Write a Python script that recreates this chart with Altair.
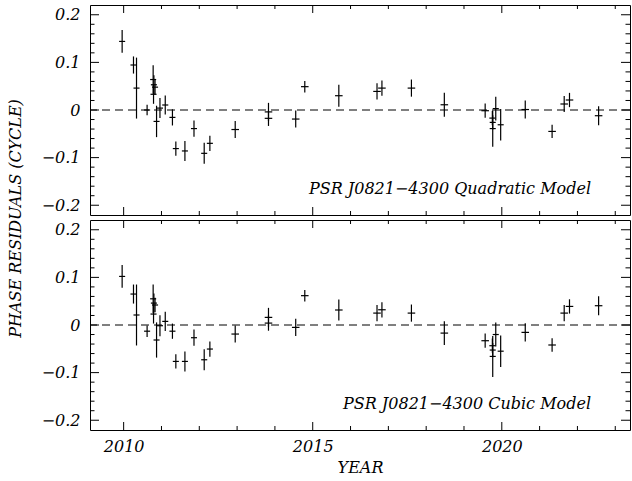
import altair as alt
import pandas as pd

FONT = "DejaVu Serif"

# --- data -------------------------------------------------------------------
years = [2009.96, 2010.26, 2010.34, 2010.62, 2010.78, 2010.80, 2010.83, 2010.79,
         2010.87, 2010.96, 2011.10, 2011.29, 2011.38, 2011.62, 2011.86, 2012.13,
         2012.28, 2012.95, 2013.83, 2013.83, 2014.55, 2014.79, 2015.69, 2016.70,
         2016.83, 2017.61, 2018.48, 2019.56, 2019.75, 2019.76, 2019.76, 2019.84,
         2019.97, 2020.62, 2021.33, 2021.65, 2021.79, 2022.56]
year_err = [0.08, 0.08, 0.08, 0.08, 0.08, 0.08, 0.08, 0.08,
            0.08, 0.08, 0.08, 0.08, 0.08, 0.08, 0.08, 0.08,
            0.08, 0.10, 0.10, 0.10, 0.10, 0.10, 0.10, 0.10,
            0.10, 0.10, 0.10, 0.10, 0.08, 0.08, 0.08, 0.08,
            0.08, 0.10, 0.10, 0.10, 0.10, 0.10]

quad_res = [0.144, 0.0945, 0.046, 0.000, 0.064, 0.053, 0.048, 0.033,
            -0.024, 0.004, 0.0105, -0.0155, -0.081, -0.086, -0.039, -0.091,
            -0.070, -0.041, -0.004, -0.0175, -0.019, 0.049, 0.030, 0.039,
            0.046, 0.046, 0.011, -0.0015, -0.017, -0.026, -0.039, 0.003,
            -0.031, 0.001, -0.045, 0.0126, 0.021, -0.012]
quad_err = [0.024, 0.018, 0.064, 0.011, 0.030, 0.020, 0.015, 0.020,
            0.033, 0.021, 0.020, 0.017, 0.015, 0.021, 0.017, 0.022,
            0.016, 0.018, 0.019, 0.016, 0.018, 0.012, 0.023, 0.017,
            0.016, 0.018, 0.025, 0.015, 0.015, 0.015, 0.038, 0.025,
            0.033, 0.019, 0.014, 0.017, 0.015, 0.020]

cubic_res = [0.102, 0.065, 0.021, -0.013, 0.055, 0.046, 0.042, 0.023,
             -0.0315, -0.0015, 0.0076, -0.013, -0.0765, -0.0765, -0.0267, -0.073,
             -0.0505, -0.019, 0.016, 0.004, -0.005, 0.0616, 0.0315, 0.025,
             0.032, 0.025, -0.017, -0.033, -0.0435, -0.0526, -0.066, -0.020,
             -0.055, -0.0155, -0.042, 0.025, 0.039, 0.0405]
cubic_err = [0.024, 0.020, 0.064, 0.012, 0.030, 0.020, 0.015, 0.020,
             0.037, 0.022, 0.020, 0.016, 0.015, 0.021, 0.017, 0.022,
             0.016, 0.018, 0.020, 0.016, 0.018, 0.012, 0.022, 0.017,
             0.016, 0.018, 0.025, 0.015, 0.015, 0.015, 0.043, 0.025,
             0.033, 0.019, 0.014, 0.017, 0.015, 0.020]

panel_labels = ["PSR J0821\u22124300 Quadratic Model", "PSR J0821\u22124300 Cubic Model"]

x_domain = [2009.11, 2023.39]
y_domain = [-0.2205, 0.2205]
x_major = [2010, 2015, 2020]
x_minor = [2011, 2012, 2013, 2014, 2016, 2017, 2018, 2019, 2021, 2022, 2023]
y_major = [-0.2, -0.1, 0.0, 0.1, 0.2]
y_minor = [-0.18, -0.16, -0.14, -0.12, -0.08, -0.06, -0.04, -0.02,
           0.02, 0.04, 0.06, 0.08, 0.12, 0.14, 0.16, 0.18]

W, H = 540, 210
LABEL_EXPR = "datum.value == 0 ? '0' : format(datum.value, '.1f')"


def panel(res, err, label, bottom):
    df = pd.DataFrame({"year": years, "xerr": year_err, "res": res, "err": err})
    df["lo"] = df["res"] - df["err"]
    df["hi"] = df["res"] + df["err"]
    df["xlo"] = df["year"] - df["xerr"]
    df["xhi"] = df["year"] + df["xerr"]

    xs = alt.Scale(domain=x_domain, nice=False, zero=False)
    ys = alt.Scale(domain=y_domain, nice=False, zero=False)

    if bottom:
        xaxis = alt.Axis(values=x_major, format="d", ticks=False, tickSize=0,
                         domain=False, grid=False, labelPadding=21,
                         labelBaseline="alphabetic", labelFontSize=16,
                         title="YEAR", titleY=42, titleBaseline="alphabetic",
                         titleFontSize=16)
        yaxis = alt.Axis(values=y_major, ticks=False, tickSize=0, domain=False,
                         grid=False, labelPadding=10, labelFontSize=16,
                         labelExpr=LABEL_EXPR, title=None)
    else:
        xaxis = None
        yaxis = alt.Axis(values=y_major, ticks=False, tickSize=0, domain=False,
                         grid=False, labelPadding=10, labelFontSize=16,
                         labelExpr=LABEL_EXPR,
                         title="PHASE RESIDUALS (CYCLE)", titleAngle=270,
                         titleX=-75, titleY=213, titleAlign="center",
                         titleBaseline="middle", titleFontSize=16)

    def X(field):
        return alt.X(field, type="quantitative", scale=xs, axis=xaxis)

    def Y(field):
        return alt.Y(field, type="quantitative", scale=ys, axis=yaxis)

    vbars = alt.Chart(df).mark_rule(color="black", strokeWidth=1.2).encode(
        x=X("year"), y=Y("lo"), y2="hi")
    hbars = alt.Chart(df).mark_rule(color="black", strokeWidth=1.2).encode(
        x=X("xlo"), x2="xhi", y=Y("res"))
    zero = alt.Chart(pd.DataFrame({"v": [0.0]})).mark_rule(
        color="black", strokeWidth=1, strokeDash=[8, 5]
    ).encode(y=Y("v"))

    layers = [vbars, hbars, zero]

    xmaj = pd.DataFrame({"t": x_major})
    xmin = pd.DataFrame({"t": x_minor})
    ymaj = pd.DataFrame({"t": y_major})
    ymin = pd.DataFrame({"t": y_minor})
    for d, ln in [(xmaj, 8), (xmin, 4)]:
        layers.append(alt.Chart(d).mark_rule(color="black", strokeWidth=1).encode(
            x=X("t"), y=alt.value(H), y2=alt.value(H - ln)))
        layers.append(alt.Chart(d).mark_rule(color="black", strokeWidth=1).encode(
            x=X("t"), y=alt.value(0), y2=alt.value(ln)))
    for d, ln in [(ymaj, 9), (ymin, 4.5)]:
        layers.append(alt.Chart(d).mark_rule(color="black", strokeWidth=1).encode(
            y=Y("t"), x=alt.value(0), x2=alt.value(ln)))
        layers.append(alt.Chart(d).mark_rule(color="black", strokeWidth=1).encode(
            y=Y("t"), x=alt.value(W), x2=alt.value(W - ln)))

    text = alt.Chart(pd.DataFrame({"label": [label]})).mark_text(
        align="right", baseline="alphabetic", font=FONT, fontStyle="italic",
        fontSize=16, color="black"
    ).encode(x=alt.value(501), y=alt.value(189), text="label:N")
    layers.append(text)

    return alt.layer(*layers).properties(width=W, height=H)


top = panel(quad_res, quad_err, panel_labels[0], False)
bot = panel(cubic_res, cubic_err, panel_labels[1], True)

chart = alt.vconcat(
    top, bot, spacing=5, bounds="flush", background="white",
    padding={"left": 6, "top": 4, "right": 0, "bottom": 52}
).configure_view(
    stroke="black", strokeWidth=1
).configure_axis(
    labelFont=FONT, labelFontStyle="italic", labelColor="black",
    titleFont=FONT, titleFontStyle="italic", titleFontWeight="normal", titleColor="black"
)

chart.save("out.html", embed_options={"renderer": "svg", "actions": False})
